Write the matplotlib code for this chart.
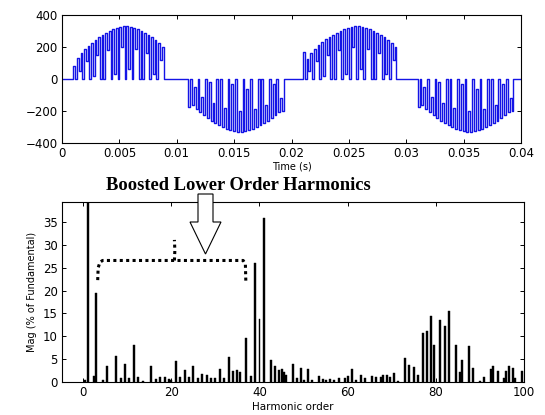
import numpy as np
import matplotlib
matplotlib.use("Agg")
import matplotlib.pyplot as plt
from matplotlib.patches import Polygon

# ---------------- data: inverter output voltage ----------------
half_start = [0.0010, 0.0110, 0.0210, 0.0310]
half_end = [0.0090, 0.0195, 0.0293, 0.0395]

pos1_tops = [80, 130, 160, 185, 208, 228, 246, 262, 277, 290, 302, 312, 320,
             326, 330, 330, 327, 321, 313, 302, 290, 276, 260, 243, 222, 200]
pos1_troughs = [0, 50, 0, 110, 0, 20, 150, 0, 0, 180, 0, 30, 0,
                200, 0, 60, 0, 190, 0, 0, 160, 0, 30, 0, 120, 0]
neg1_tops = [-175, -160, -185, -208, -228, -246, -262, -277, -290, -302, -312, -320, -326,
             -330, -330, -327, -321, -313, -302, -290, -276, -260, -243, -225, -205, -200]
neg1_troughs = [0, -50, 0, -110, 0, -20, -150, 0, 0, -180, 0, -30, 0,
                -200, 0, -60, 0, -190, 0, 0, -160, 0, -30, 0, -120, 0]
pos2_tops = [170, 125, 165, 190, 210, 230, 247, 263, 277, 290, 302, 312, 320,
             326, 330, 330, 327, 321, 313, 302, 290, 276, 260, 243, 222, 200]
pos2_troughs = [0, 50, 0, 110, 0, 20, 150, 0, 0, 180, 0, 30, 0,
                200, 0, 60, 0, 190, 0, 0, 160, 0, 30, 0, 120, 0]
neg2_tops = [-175, -160, -185, -208, -228, -246, -262, -277, -290, -302, -312, -320, -326,
             -330, -330, -327, -321, -313, -302, -290, -276, -260, -243, -225, -205, -200]
neg2_troughs = [0, -50, 0, -110, 0, -20, -150, 0, 0, -180, 0, -30, 0,
                -200, 0, -60, 0, -190, 0, 0, -160, 0, -30, 0, -120, 0]

time_ticks = [0, 0.005, 0.01, 0.015, 0.02, 0.025, 0.03, 0.035, 0.04]
time_labels = ["0", "0.005", "0.01", "0.015", "0.02", "0.025", "0.03", "0.035", "0.04"]
volt_ticks = [-400, -200, 0, 200, 400]

# ---------------- data: harmonic spectrum ----------------
orders = [0.5, 1, 2.5, 3, 4.5, 5.5, 7.5, 8.5, 9.5, 10.5, 11.5, 12.5, 13.5, 15.5, 16.5,
          17.5, 18.5, 19.5, 20, 21, 22, 23, 24, 25, 26, 27, 28, 29, 30, 31, 32, 33,
          34, 35, 35.5, 37, 38, 39, 40, 41, 42.5, 43.5, 44.5, 45, 45.5, 46, 47.5,
          48.5, 49.5, 50, 51, 52, 53.5, 54.5, 55, 56, 57, 58, 59.5, 60, 61, 62, 63,
          64, 65.5, 66.5, 67.5, 68, 69, 69.5, 70.5, 71.5, 73, 74, 75, 76, 77, 78, 79,
          79.5, 81, 82, 83, 84.5, 85.5, 86, 87.5, 88.5, 90, 91, 92.5, 93, 94, 95.5,
          96, 96.5, 97.5, 98, 99.5]
mags = [0.5, 100, 1.3, 19.4, 0.4, 3.4, 5.8, 0.8, 4.0, 0.9, 8.2, 1.2, 0.3, 3.4, 0.6,
        1.2, 1.0, 0.7, 0.5, 4.7, 1.2, 2.7, 1.0, 3.4, 0.9, 1.8, 1.6, 0.8, 0.9, 2.8, 0.8, 5.4,
        2.4, 2.6, 2.2, 9.6, 1.4, 26.0, 13.8, 36.0, 4.8, 3.5, 2.7, 2.8, 2.1, 1.6, 4.0,
        0.8, 3.0, 0.5, 2.8, 0.5, 1.4, 0.6, 0.5, 0.7, 0.5, 0.9, 0.8, 1.3, 2.8, 0.5, 1.6,
        0.8, 1.3, 1.0, 1.0, 1.6, 1.6, 1.2, 2.0, 0.3, 5.2, 3.7, 3.2, 1.6, 10.8, 11.2, 14.5,
        8.2, 13.6, 12.2, 15.5, 8.1, 2.2, 4.8, 7.8, 3.0, 0.3, 1.0, 2.9, 3.6, 2.3, 0.8,
        2.4, 3.4, 3.0, 0.8, 2.4]
harm_ticks = [0, 20, 40, 60, 80, 100]
mag_ticks = [0, 5, 10, 15, 20, 25, 30, 35]

# bracket of "boosted" harmonics (data coords of spectrum axes)
bracket_x = [3.3, 3.4, 3.8, 4.4, 36.3, 36.8, 36.9]
bracket_y = [22.3, 25.0, 26.2, 26.6, 26.6, 25.8, 22.0]
bump_x = [20.7, 20.8, 20.7]
bump_y = [26.6, 28.8, 31.1]


def build_half(t0, t1, tops, troughs, duty=0.5):
    n = len(tops)
    dt = (t1 - t0) / n
    xs, ys = [t0], [0.0]
    for k, (a, b) in enumerate(zip(tops, troughs)):
        ts = t0 + k * dt
        xs += [ts, ts, ts + duty * dt, ts + duty * dt]
        ys += [ys[-1], a, a, b]
    xs += [t1, t1]
    ys += [ys[-1], 0.0]
    return xs, ys


W, H = 545, 415
fig = plt.figure(figsize=(W / 100, H / 100), dpi=100)
plt.rcParams["font.family"] = ["DejaVu Sans"]

ax1 = fig.add_axes([62 / W, 1 - 143 / H, (521 - 62) / W, (143 - 15) / H])
ax2 = fig.add_axes([62 / W, 1 - 382 / H, (524 - 62) / W, (382 - 202) / H])

# ---- waveform ----
tx, vy = [0.0], [0.0]
for t0, t1, tp, tr in zip(half_start, half_end,
                          [pos1_tops, neg1_tops, pos2_tops, neg2_tops],
                          [pos1_troughs, neg1_troughs, pos2_troughs, neg2_troughs]):
    xs, ys = build_half(t0, t1, tp, tr)
    tx += xs
    vy += ys
tx.append(0.04)
vy.append(0.0)
ax1.plot(tx, vy, color="#1414e6", lw=1.0)
ax1.set_xlim(0, 0.04)
ax1.set_ylim(-400, 400)
ax1.set_xticks(time_ticks)
ax1.set_xticklabels(time_labels)
ax1.set_yticks(volt_ticks)
ax1.set_xlabel("Time (s)", fontsize=7, labelpad=1)

# ---- spectrum ----
ax2.bar(orders, mags, width=0.45, color="black", edgecolor="black", linewidth=0.3)
ax2.set_xlim(-4.8, 100)
ax2.set_ylim(0, 39.4)
ax2.set_xticks(harm_ticks)
ax2.set_yticks(mag_ticks)
ax2.set_xlabel("Harmonic order", fontsize=7.5, labelpad=2)
ax2.set_ylabel("Mag (% of Fundamental)", fontsize=7, labelpad=4)

for ax in (ax1, ax2):
    ax.tick_params(direction="in", length=3, width=0.7, top=True, right=True,
                   labelsize=8.5, pad=3)
    for s in ax.spines.values():
        s.set_linewidth(0.8)

# dotted bracket
dot_style = dict(color="black", lw=2.2, linestyle=(0, (1, 1.1)),
                 dash_capstyle="butt", clip_on=False, zorder=5)
ax2.plot(bracket_x, bracket_y, **dot_style)
ax2.plot(bump_x, bump_y, **dot_style)

# title annotation
fig.text(238 / W, 1 - 185 / H, "Boosted Lower Order Harmonics", ha="center", va="center",
         family="Liberation Serif", weight="bold", fontsize=13.3)

# hollow arrow
arrow_px = [(198, 194), (213, 194), (213, 222), (221, 222), (205.5, 254),
            (190, 222), (198, 222)]
arrow = Polygon([(x / W, 1 - y / H) for x, y in arrow_px], closed=True,
                facecolor="white", edgecolor="black", lw=0.8,
                transform=fig.transFigure, zorder=10)
fig.add_artist(arrow)

fig.savefig("out.png", dpi=100)
